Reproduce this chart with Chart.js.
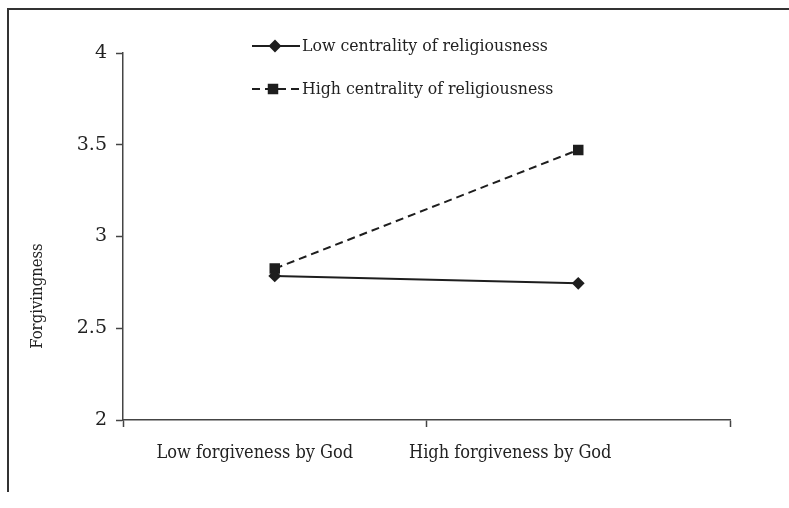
<!DOCTYPE html>
<html>
<head>
<meta charset="utf-8">
<script src="https://cdn.jsdelivr.net/npm/chart.js@4/dist/chart.umd.min.js"></script>
<style>
  html, body { margin: 0; padding: 0; background: #fff; }
  #wrap { position: relative; width: 789px; height: 508px; }
  #frame { position: absolute; left: 7px; top: 8px; width: 800px; height: 482px;
           border-left: 2px solid #333; border-top: 2px solid #333; }
</style>
</head>
<body>
<div id="wrap">
  <div id="frame"></div>
  <canvas id="c" width="789" height="508"></canvas>
</div>
<script>
const categories = ["Low forgiveness by God", "High forgiveness by God"];
const lowCentrality = [2.785, 2.745];
const highCentrality = [2.825, 3.472];
const seriesNames = ["Low centrality of religiousness", "High centrality of religiousness"];
const yTicks = [2, 2.5, 3, 3.5, 4];
const yTitle = "Forgivingness";

const FONT = "'DejaVu Serif Condensed', 'DejaVu Serif', serif";
const ink = "#1e1e1e";
const textInk = "#222";

// x labels are drawn by hand, the picture has them shifted left of the category centre
const xLabels = {
  id: "xLabels",
  afterDraw(chart) {
    const ctx = chart.ctx;
    const xs = chart.scales.x;
    const nudge = [-20, -68];
    ctx.save();
    ctx.font = "18px " + FONT;
    ctx.fillStyle = textInk;
    ctx.textAlign = "center";
    ctx.textBaseline = "middle";
    categories.forEach((c, i) => {
      ctx.fillText(c, xs.getPixelForValue(i) + nudge[i], 453);
    });
    // y title
    ctx.translate(38, 296);
    ctx.rotate(-Math.PI / 2);
    ctx.font = "16.5px " + FONT;
    ctx.fillText(yTitle, 0, 0);
    ctx.restore();
  }
};

// legend with a line sample and marker, as in the picture
const lineLegend = {
  id: "lineLegend",
  afterDraw(chart) {
    const ctx = chart.ctx;
    const rows = [{ y: 46, mx: 275 }, { y: 89, mx: 273 }];
    chart.data.datasets.forEach((ds, i) => {
      const r = rows[i];
      ctx.save();
      ctx.strokeStyle = ds.borderColor;
      ctx.lineWidth = ds.borderWidth;
      ctx.setLineDash(ds.borderDash || []);
      ctx.beginPath();
      ctx.moveTo(252, r.y);
      ctx.lineTo(300, r.y);
      ctx.stroke();
      ctx.setLineDash([]);
      Chart.helpers.drawPoint(ctx, {
        pointStyle: ds.pointStyle, radius: ds.pointRadius, rotation: 0, borderWidth: 1
      }, r.mx, r.y);
      ctx.fillStyle = ds.pointBackgroundColor;
      ctx.fill();
      ctx.font = "17.5px " + FONT;
      ctx.fillStyle = textInk;
      ctx.textAlign = "left";
      ctx.textBaseline = "middle";
      ctx.fillText(ds.label, 302, r.y);
      ctx.restore();
    });
  }
};

new Chart(document.getElementById("c"), {
  type: "line",
  data: {
    labels: categories,
    datasets: [
      {
        label: seriesNames[0],
        data: lowCentrality,
        borderColor: ink,
        borderWidth: 2,
        pointStyle: "rectRot",
        pointRadius: 5,
        pointBackgroundColor: ink,
        pointBorderColor: ink,
        tension: 0
      },
      {
        label: seriesNames[1],
        data: highCentrality,
        borderColor: ink,
        borderWidth: 2,
        borderDash: [8, 5],
        pointStyle: "rect",
        pointRadius: 6,
        pointBackgroundColor: ink,
        pointBorderColor: ink,
        tension: 0
      }
    ]
  },
  options: {
    responsive: false,
    animation: false,
    layout: { padding: { left: 0, right: 59, top: 53, bottom: 0 } },
    plugins: { legend: { display: false }, tooltip: { enabled: false } },
    scales: {
      x: {
        offset: true,
        grid: { offset: true, drawOnChartArea: false, tickLength: 7, color: "#444", tickWidth: 1.5 },
        border: { color: "#444", width: 1.5 },
        ticks: { display: false },
        afterFit: s => { s.height = 88; }
      },
      y: {
        min: 2,
        max: 4,
        afterBuildTicks: s => { s.ticks = yTicks.map(v => ({ value: v })); },
        grid: { drawOnChartArea: false, tickLength: 7, color: "#444", tickWidth: 1.5 },
        border: { color: "#444", width: 1.5 },
        ticks: {
          color: textInk,
          padding: 9,
          font: { family: "'DejaVu Serif', serif", size: 19 },
          callback: v => String(v)
        },
        afterFit: s => { s.width = 123; }
      }
    }
  },
  plugins: [xLabels, lineLegend]
});
</script>
</body>
</html>
